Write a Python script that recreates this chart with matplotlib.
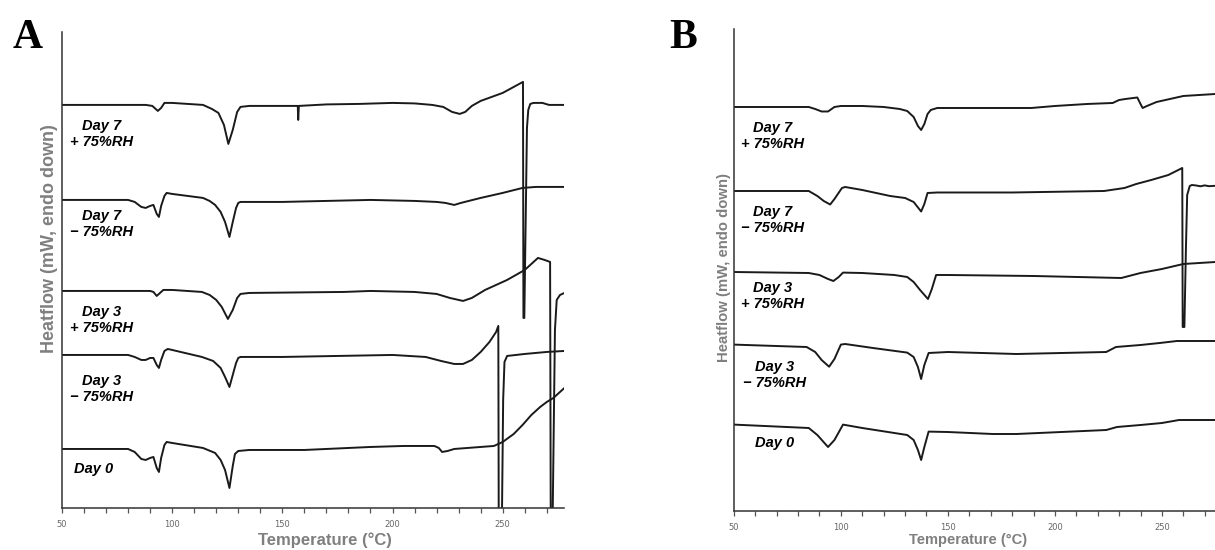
import numpy as np
import matplotlib
matplotlib.use("Agg")
import matplotlib.pyplot as plt
from matplotlib.ticker import MultipleLocator

# ---- panel A: DSC traces (temperature in C, heat flow in arbitrary units, already offset) ----
a_d7p_t = [50, 88, 91, 93.5, 95, 96.5, 100, 114, 118, 121, 123.5, 125.5, 127.5, 129.5, 131, 135, 150, 157, 157.2, 157.5,
           170, 185, 200, 210, 218, 223, 227, 230.5, 233, 236, 240, 250, 259.2, 259.4, 259.8, 260.5, 261.0, 261.6, 262.5,
           264, 268, 271, 278]
a_d7p_hf = [403, 403, 402, 397, 400, 405, 405, 403, 399, 395, 383, 364, 378, 396, 401, 402, 402, 402, 388, 402,
            403.5, 404, 405, 404.5, 403, 401, 396, 394, 396, 402, 407, 415, 426, 190, 190, 300, 380, 398, 404,
            405, 405, 403, 403]

a_d7m_t = [50, 80, 83, 86, 88, 90, 91.5, 93, 94, 95, 96.5, 97.5, 100, 114, 117, 119.5, 122, 124, 126, 127.5, 129, 130, 131,
           150, 170, 190, 210, 220, 224, 228, 231, 240, 250, 259, 265, 278]
a_d7m_hf = [308, 308, 306, 301, 300, 302, 303, 294, 291, 302, 312, 315, 314, 310, 307, 303, 296, 286, 271, 286, 300, 305, 306,
            306, 307, 308, 307, 306, 305, 303, 305, 310, 315, 320, 321, 321]

a_d3p_t = [50, 90, 91.5, 93, 94.5, 96, 100, 113.5, 117, 120, 122.5, 125.3, 127.5, 129.5, 131, 135, 178, 190, 210, 220, 226,
           232, 236, 242, 252, 260, 264, 266, 269, 271.5, 271.8, 272.6, 273.2, 273.7, 274.5, 276, 278]
a_d3p_hf = [217, 217, 216, 212, 215, 218, 218, 216, 213, 208, 201, 189, 198, 210, 214, 215, 216, 217, 216, 214, 210,
            207, 210, 218, 228, 238, 246, 250, 248, 246, -20, -20, 88, 178, 208, 213, 215]

a_d3m_t = [50, 80, 83, 86, 88, 90, 91.5, 93, 94, 95, 96.5, 98, 100, 113.5, 118.6, 122, 124, 126, 127.5, 129, 130, 131, 150,
           175, 200, 215, 222, 228, 232, 236, 240, 244, 247, 248, 248.2, 249.6, 250.2, 250.8, 252, 260, 270, 278]
a_d3m_hf = [153, 153, 151, 148, 148, 150, 150, 143, 140, 148, 157, 159, 158, 151, 147, 140, 131, 121, 133, 145, 150, 151, 151,
            152, 153, 151, 147, 144, 144, 148, 156, 166, 176, 182, -20, -20, 108, 146, 152, 154, 156, 157]

a_d0_t = [50, 80, 83, 86, 88, 90, 91.5, 93, 94, 95, 96.5, 97.5, 100, 114, 119.5, 122, 124, 126, 127.5, 128.5, 130, 135,
          160, 190, 205, 219, 221, 222.5, 225, 228, 240, 246, 250, 255, 259, 263, 267, 270, 273, 276, 278]
a_d0_hf = [59, 59, 56, 49, 48, 50, 51, 40, 36, 50, 63, 66, 65, 60, 55, 48, 38, 20, 42, 54, 57, 58,
           58, 61, 62, 62, 60, 56, 57, 59, 61, 62, 66, 74, 83, 93, 101, 106, 110, 116, 120]

# ---- panel B ----
b_d7p_t = [50, 85, 88, 91, 94, 97, 100, 110, 120, 127.5, 131, 134, 136, 137.5, 139, 140.5, 142, 145, 160, 189, 200, 215,
           227, 230, 233, 238.5, 240, 241, 243, 247.5, 260, 275]
b_d7p_hf = [404, 404, 402, 399.5, 399.5, 404, 405, 405, 404, 402, 400, 394, 385, 381, 387, 397, 401, 403, 403, 403, 405, 407,
            408, 411, 412, 413.5, 407, 403, 405, 409, 415, 417]

b_d7m_t = [50, 85, 89, 92, 95, 97, 100.5, 102, 110, 123, 130, 134, 137.5, 139, 140.5, 145, 180, 223, 232.5, 238, 245, 253,
           259.5, 259.7, 260.5, 261.2, 261.8, 263, 264, 266, 268, 270, 272, 275]
b_d7m_hf = [320, 320, 315, 310, 306.5, 312, 323, 324, 321, 315, 313, 309, 299.5, 307, 318, 318.5, 318.5, 320, 323, 327, 331, 336,
            343, 184, 184, 261, 316, 325, 326, 325.5, 324.7, 325.6, 324.8, 325.2]

b_d3p_t = [50, 85, 90, 94, 96.5, 99, 101, 110, 125, 131, 134, 137, 140.7, 142.5, 144.5, 150, 190, 231, 240, 250, 260, 275]
b_d3p_hf = [239, 238, 236, 232, 230, 234, 238.4, 238, 236, 234, 229, 221, 212, 222, 236, 236, 235, 233, 238, 242, 247, 249]

b_d3m_t = [50, 84, 88, 91, 94.5, 97, 100, 102, 115, 131, 134, 136, 137.5, 139, 141, 150, 182, 224, 228.5, 240, 249, 257, 275]
b_d3m_hf = [166.4, 164, 159, 151, 144.3, 152, 166.4, 167, 163, 158.4, 154, 144, 132, 146, 158, 159, 157, 159, 164, 166, 168,
            170, 170]

b_d0_t = [50, 85, 89, 94, 97, 101, 110, 131, 134, 136, 137.5, 139, 141, 150, 171, 182, 224, 229, 240, 250, 258, 275]
b_d0_hf = [86.4, 83, 76, 64, 71, 86.4, 83, 76, 71, 61, 51, 64, 79.4, 79, 77, 77, 81, 84, 86, 88, 91, 91]

labels = ["Day 7\n+ 75%RH", "Day 7\n\u2212 75%RH", "Day 3\n+ 75%RH", "Day 3\n\u2212 75%RH", "Day 0"]
a_label_pos = [(68, 374), (68, 284), (68, 188), (68, 119), (64.5, 39)]
b_label_pos = [(68, 375), (68, 291), (68, 215), (69, 136), (69, 68)]

a_curves = [(a_d7p_t, a_d7p_hf), (a_d7m_t, a_d7m_hf), (a_d3p_t, a_d3p_hf), (a_d3m_t, a_d3m_hf), (a_d0_t, a_d0_hf)]
b_curves = [(b_d7p_t, b_d7p_hf), (b_d7m_t, b_d7m_hf), (b_d3p_t, b_d3p_hf), (b_d3m_t, b_d3m_hf), (b_d0_t, b_d0_hf)]

fig = plt.figure(figsize=(12.15, 5.5), dpi=100)
axA = fig.add_axes([0.051, 0.0764, 0.413, 0.8656])
axB = fig.add_axes([0.604, 0.0709, 0.396, 0.8764])

grey = '#7f7f7f'


def style(ax, xmax, ymax, ylab_fs, xlab_fs, ylab_xy, xlab_xy):
    ax.set_xlim(50, xmax)
    ax.set_ylim(0, ymax)
    for s in ['top', 'right']:
        ax.spines[s].set_visible(False)
    for s in ['left', 'bottom']:
        ax.spines[s].set_linewidth(1.1)
        ax.spines[s].set_color('#333333')
    ax.set_yticks([])
    ax.xaxis.set_major_locator(MultipleLocator(50))
    ax.xaxis.set_minor_locator(MultipleLocator(10))
    ax.tick_params(axis='x', which='both', direction='out', length=3.5, width=0.9, color='#555555',
                   labelsize=6, labelcolor='#666666', pad=5)
    ax.set_ylabel('Heatflow (mW, endo down)', fontsize=ylab_fs, fontweight='bold', color=grey, family='Liberation Sans')
    ax.yaxis.set_label_coords(*ylab_xy)
    ax.set_xlabel('Temperature (\u00b0C)', fontsize=xlab_fs, fontweight='bold', color=grey, family='Liberation Sans')
    ax.xaxis.set_label_coords(*xlab_xy)


for ax, curves, pos in [(axA, a_curves, a_label_pos), (axB, b_curves, b_label_pos)]:
    for (t, hf), lab, (tx, ty) in zip(curves, labels, pos):
        ax.plot(t, hf, color='#1a1a1a', lw=1.4, solid_joinstyle='round')
        ax.text(tx, ty, lab, ha='center', va='center', multialignment='center', fontsize=10.5,
                fontweight='bold', style='italic', family='Liberation Sans', linespacing=1.15)

style(axA, 277.7, 476, 13, 12, (-0.008, 0.565), (0.524, -0.052))
style(axB, 274.8, 482, 10.7, 10.5, (-0.006, 0.506), (0.486, -0.046))

fig.text(0.010, 0.965, 'A', fontsize=30, fontweight='bold', family='Liberation Serif', va='top', ha='left')
fig.text(0.551, 0.965, 'B', fontsize=30, fontweight='bold', family='Liberation Serif', va='top', ha='left')

fig.savefig('out.png', dpi=100)
